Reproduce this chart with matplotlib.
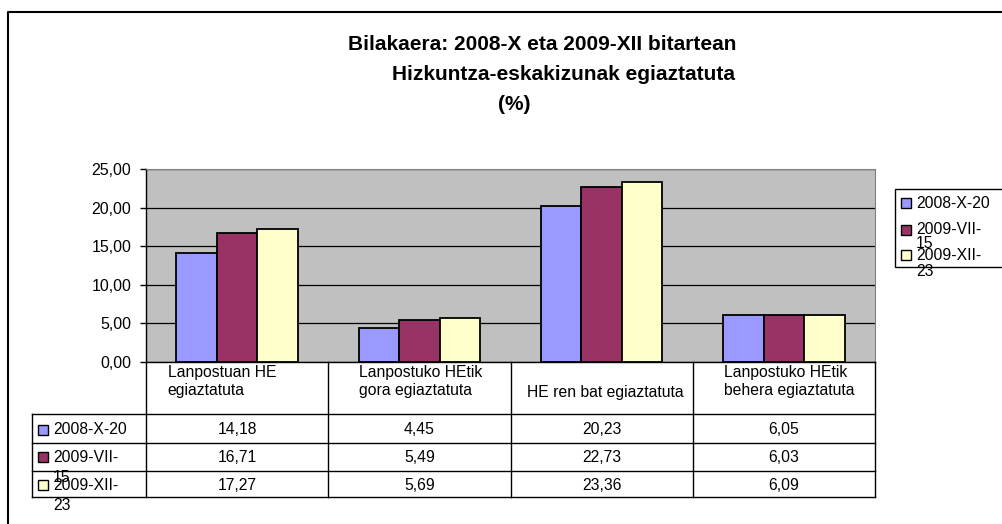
import numpy as np
import matplotlib
matplotlib.use("Agg")
import matplotlib.pyplot as plt
from matplotlib.lines import Line2D
from matplotlib.patches import Rectangle
from matplotlib.transforms import blended_transform_factory

plt.rcParams['font.family'] = ['Liberation Sans', 'DejaVu Sans']

# datuak
kategoriak = [["Lanpostuan HE", "egiaztatuta"], ["Lanpostuko HEtik", "gora egiaztatuta"],
              ["HE ren bat egiaztatuta"], ["Lanpostuko HEtik", "behera egiaztatuta"]]
seriak = [["2008-X-20"], ["2009-VII-", "15"], ["2009-XII-", "23"]]
v_2008_x = [14.18, 4.45, 20.23, 6.05]
v_2009_vii = [16.71, 5.49, 22.73, 6.03]
v_2009_xii = [17.27, 5.69, 23.36, 6.09]
balioak = [v_2008_x, v_2009_vii, v_2009_xii]
koloreak = ["#9999FF", "#993366", "#FFFFCC"]
y_tickak = [0, 5, 10, 15, 20, 25]

W, H = 1002, 524
fig = plt.figure(figsize=(W / 100, H / 100), dpi=100)

def fx(px):
    return px / W

def fy(py):
    return 1 - py / H

# grafikoaren eremua
x0, x1, y0, y1 = 146, 875, 169, 362
ax = fig.add_axes([fx(x0), fy(y1), fx(x1) - fx(x0), fy(y0) - fy(y1)])
ax.set_facecolor("#C0C0C0")
ax.set_xlim(-0.5, len(kategoriak) - 0.5)
ax.set_ylim(0, 25)

x = np.arange(len(kategoriak))
zabal = 0.222
for i, (b, k) in enumerate(zip(balioak, koloreak)):
    ax.bar(x + (i - 1) * zabal, b, zabal, color=k, edgecolor="black",
           linewidth=1.3, zorder=3)

ax.set_yticks(y_tickak)
ax.set_yticklabels([f"{t:.2f}".replace(".", ",") for t in y_tickak], fontsize=11.5)
ax.yaxis.grid(True, color="black", linewidth=0.9, zorder=1)
ax.set_xticks([])
ax.tick_params(axis="y", length=4.3, width=1, direction="out", pad=6.3)
for s in ["top", "right"]:
    ax.spines[s].set_color("#808080")
ax.spines["left"].set_color("black")
ax.spines["bottom"].set_color("black")
ax.spines["left"].set_linewidth(1)
ax.spines["bottom"].set_linewidth(1)

# izenburua
fig.text(fx(542), fy(44), "Bilakaera: 2008-X eta 2009-XII bitartean", ha="center",
         va="center", fontsize=15, fontweight="bold")
fig.text(fx(564), fy(75), "Hizkuntza-eskakizunak egiaztatuta", ha="center",
         va="center", fontsize=15, fontweight="bold")
fig.text(fx(514), fy(105), "(%)", ha="center", va="center", fontsize=15,
         fontweight="bold")

# kanpoko markoa
fig.add_artist(Line2D([fx(8), fx(8), fx(1002)], [fy(524), fy(12), fy(12)],
                      transform=fig.transFigure, color="black", linewidth=1.5))

# datu-taula
tr = blended_transform_factory(ax.transData, fig.transFigure)
ilarak = [414, 443, 471, 497]
lerroa = dict(color="black", linewidth=1)
for yy in ilarak:
    fig.add_artist(Line2D([fx(32), fx(875)], [fy(yy), fy(yy)],
                          transform=fig.transFigure, **lerroa))
fig.add_artist(Line2D([fx(32), fx(32)], [fy(414), fy(497)],
                      transform=fig.transFigure, **lerroa))
for c in range(len(kategoriak) + 1):
    fig.add_artist(Line2D([c - 0.5, c - 0.5], [fy(362), fy(497)], transform=tr, **lerroa))

# kategorien izenak (ezkerretik tartea, zutabe-zabaleraren zatiki gisa)
ezk = [0.119, 0.170, 0.088, 0.170]
for c, lerroak in enumerate(kategoriak):
    ys = [373, 391] if len(lerroak) == 2 else [392]
    for testua, yy in zip(lerroak, ys):
        fig.text(c - 0.5 + ezk[c], fy(yy), testua, transform=tr, ha="left",
                 va="center", fontsize=11.3)

erdiak = [430, 457, 485]
bigarren = [0, 21, 20]
for r, (izena, b, k) in enumerate(zip(seriak, balioak, koloreak)):
    for c, v in enumerate(b):
        fig.text(c, fy(erdiak[r]), f"{v:.2f}".replace(".", ","), transform=tr,
                 ha="center", va="center", fontsize=11.3)
    fig.add_artist(Rectangle((fx(38), fy(erdiak[r] + 5)), fx(10), 10 / H,
                             transform=fig.transFigure, facecolor=k,
                             edgecolor="black", linewidth=1))
    fig.text(fx(53), fy(erdiak[r]), izena[0], ha="left", va="center", fontsize=11.3)
    if len(izena) > 1:
        fig.text(fx(53), fy(erdiak[r] + bigarren[r]), izena[1], ha="left",
                 va="center", fontsize=11.3)

# legenda
fig.add_artist(Rectangle((fx(895), fy(267)), fx(200), 78 / H,
                         transform=fig.transFigure, facecolor="white",
                         edgecolor="black", linewidth=1))
leg_y = [203, 230, 255]
leg_bigarren = [0, 14, 16]
for izena, k, yy, dy in zip(seriak, koloreak, leg_y, leg_bigarren):
    fig.add_artist(Rectangle((fx(901), fy(yy + 5)), fx(10), 10 / H,
                             transform=fig.transFigure, facecolor=k,
                             edgecolor="black", linewidth=1))
    fig.text(fx(916), fy(yy), izena[0], ha="left", va="center", fontsize=11.3)
    if len(izena) > 1:
        fig.text(fx(916), fy(yy + dy), izena[1], ha="left", va="center",
                 fontsize=11.3)

fig.savefig("out.png", dpi=100)
